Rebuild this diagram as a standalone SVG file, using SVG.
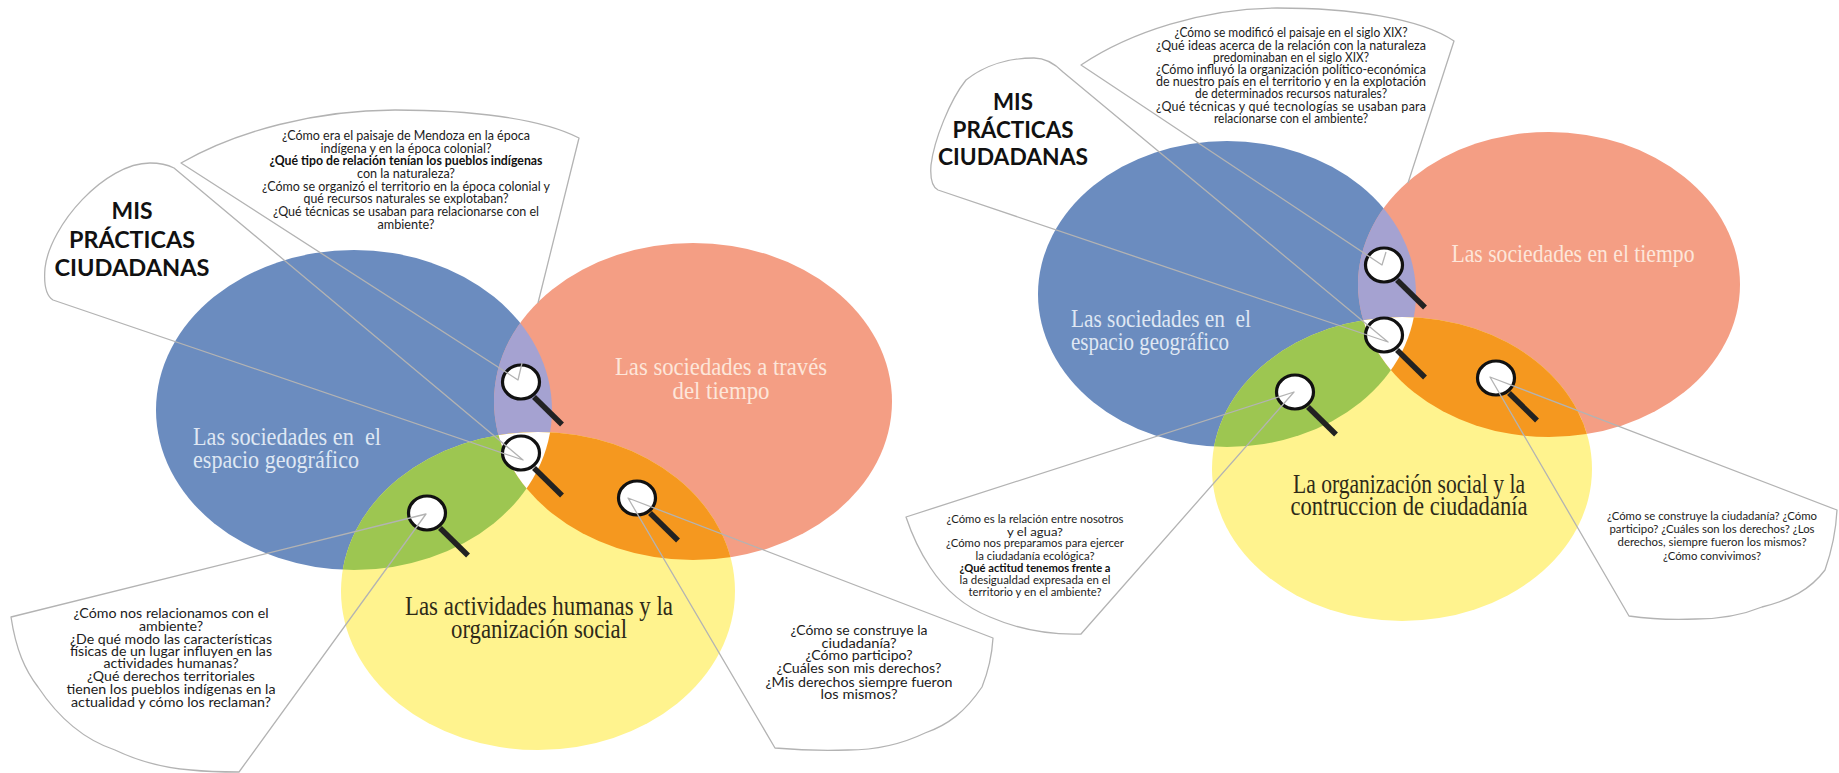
<svg xmlns="http://www.w3.org/2000/svg" xmlns:xlink="http://www.w3.org/1999/xlink" width="1839" height="773" viewBox="0 0 1839 773">
<style>
.q{font-family:"Lato","Liberation Sans",sans-serif;font-size:12.5px;fill:#1c1c1c;text-anchor:middle}
.qb{font-weight:700;fill:#111}
.q2{font-size:11.5px}
.t{font-family:"Lato","Liberation Sans",sans-serif;font-size:23.5px;font-weight:700;fill:#111;text-anchor:middle}
.l{font-family:"Liberation Serif",serif;font-size:26px}
.lt{fill:#dfe7f3}
.ls{fill:#fde6da;text-anchor:middle}
.ly{fill:#2e2a18;text-anchor:middle;font-size:28px}
.c{fill:none;stroke:#b3b3b3;stroke-width:1.3;stroke-linejoin:round}
.blue{fill:#6b8cbf}.sal{fill:#f49e84}.yel{fill:#fff38e}.lav{fill:#a5a2d1}.gre{fill:#9dc651}.ora{fill:#f5981f}
</style>
<defs>
<clipPath id="cb1"><ellipse cx="354" cy="410" rx="198" ry="160"/></clipPath>
<clipPath id="cs1"><ellipse cx="693" cy="401.500" rx="199" ry="158.500"/></clipPath>
<clipPath id="cb2"><ellipse cx="1227" cy="294" rx="189" ry="153"/></clipPath>
<clipPath id="cs2"><ellipse cx="1549" cy="284.500" rx="191" ry="152.500"/></clipPath>
<g id="lens">
<line x1="13" y1="15" x2="41" y2="42.500" stroke="#222" stroke-width="5.500"/>
<ellipse cx="0" cy="0" rx="18.500" ry="17" fill="#fff" stroke="#111" stroke-width="3.200"/>
</g>
</defs>

<g id="venn-left">
<ellipse class="blue" cx="354" cy="410" rx="198" ry="160"/>
<ellipse class="sal" cx="693" cy="401.500" rx="199" ry="158.500"/>
<ellipse class="yel" cx="538" cy="591" rx="197" ry="159"/>
<g clip-path="url(#cb1)"><ellipse class="lav" cx="693" cy="401.500" rx="199" ry="158.500"/></g>
<g clip-path="url(#cb1)"><ellipse class="gre" cx="538" cy="591" rx="197" ry="159"/></g>
<g clip-path="url(#cs1)"><ellipse class="ora" cx="538" cy="591" rx="197" ry="159"/></g>
<g clip-path="url(#cb1)"><g clip-path="url(#cs1)"><ellipse fill="#fff" cx="538" cy="591" rx="197" ry="159"/></g></g>
</g>

<g id="venn-right">
<ellipse class="blue" cx="1227" cy="294" rx="189" ry="153"/>
<ellipse class="sal" cx="1549" cy="284.500" rx="191" ry="152.500"/>
<ellipse class="yel" cx="1402" cy="469" rx="190" ry="152"/>
<g clip-path="url(#cb2)"><ellipse class="lav" cx="1549" cy="284.500" rx="191" ry="152.500"/></g>
<g clip-path="url(#cb2)"><ellipse class="gre" cx="1402" cy="469" rx="190" ry="152"/></g>
<g clip-path="url(#cs2)"><ellipse class="ora" cx="1402" cy="469" rx="190" ry="152"/></g>
<g clip-path="url(#cb2)"><g clip-path="url(#cs2)"><ellipse fill="#fff" cx="1402" cy="469" rx="190" ry="152"/></g></g>
</g>

<g id="magnifiers">
<use xlink:href="#lens" href="#lens" x="521" y="382"/>
<use xlink:href="#lens" href="#lens" x="521" y="453"/>
<use xlink:href="#lens" href="#lens" x="637" y="498"/>
<use xlink:href="#lens" href="#lens" x="427" y="513"/>
<use xlink:href="#lens" href="#lens" x="1384" y="265"/>
<use xlink:href="#lens" href="#lens" x="1384" y="335"/>
<use xlink:href="#lens" href="#lens" x="1496" y="378"/>
<use xlink:href="#lens" href="#lens" x="1295" y="392"/>
</g>

<g id="connectors">
<path class="c" d="M538,303 L579,138 C540,118 470,110 395,110 C316,110 237,131 181,163 L518,380 L522,363"/>
<path class="c" d="M523,460 L53,300 C45,295 44,280 45,268 C50,225 105,163 150,163 C160,163 168,165 174,168 Z"/>
<path class="c" d="M426,514 L11,617 C16,650 25,670 38,687 C60,720 85,740 115,750 C140,762 165,768 191,770 C210,772 225,772 239,772 Z"/>
<path class="c" d="M628,498 L993,638 C992,655 988,672 982,687 C965,712 948,725 925,733 C900,745 875,750 848,750 C822,751 798,750 775,748 Z"/>
<path class="c" d="M1408,183 L1454,41 C1420,18 1350,8 1277,8 C1205,8 1130,32 1081,65 L1382,265 L1386,252"/>
<path class="c" d="M1388,342 L938,190 C932,187 930,178 931,165 C934,140 950,100 966,80 C985,65 1010,58 1034,58 C1045,58 1055,64 1063,72 Z"/>
<path class="c" d="M1294,392 L906,517 C912,535 920,552 930,567 C945,590 965,607 990,617 C1020,630 1050,635 1081,634 Z"/>
<path class="c" d="M1490,377 L1837,510 C1836,530 1832,550 1825,570 C1810,590 1790,600 1762,607 C1740,616 1718,619 1696,619 C1672,620 1650,619 1629,616 Z"/>
</g>

<g id="titulo-izquierda">
<text class="t" x="132" y="219" textLength="41" lengthAdjust="spacingAndGlyphs">MIS</text>
<text class="t" x="132" y="248" textLength="126" lengthAdjust="spacingAndGlyphs">PRÁCTICAS</text>
<text class="t" x="132" y="276" textLength="155" lengthAdjust="spacingAndGlyphs">CIUDADANAS</text>
</g>
<g id="titulo-derecha">
<text class="t" x="1013" y="110" textLength="40" lengthAdjust="spacingAndGlyphs">MIS</text>
<text class="t" x="1013" y="138" textLength="121" lengthAdjust="spacingAndGlyphs">PRÁCTICAS</text>
<text class="t" x="1013" y="165" textLength="150" lengthAdjust="spacingAndGlyphs">CIUDADANAS</text>
</g>

<g id="preguntas-arriba-izquierda">
<text class="q" x="406" y="140" textLength="248" lengthAdjust="spacingAndGlyphs">¿Cómo era el paisaje de Mendoza en la época</text>
<text class="q" x="406" y="153" textLength="171" lengthAdjust="spacingAndGlyphs">indígena y en la época colonial?</text>
<text class="q qb" x="406" y="165" textLength="273" lengthAdjust="spacingAndGlyphs">¿Qué tipo de relación tenían los pueblos indígenas</text>
<text class="q" x="406" y="178" textLength="98" lengthAdjust="spacingAndGlyphs">con la naturaleza?</text>
<text class="q" x="406" y="191" textLength="288" lengthAdjust="spacingAndGlyphs">¿Cómo se organizó el territorio en la época colonial y</text>
<text class="q" x="406" y="203" textLength="205" lengthAdjust="spacingAndGlyphs">qué recursos naturales se explotaban?</text>
<text class="q" x="406" y="216" textLength="266" lengthAdjust="spacingAndGlyphs">¿Qué técnicas se usaban para relacionarse con el</text>
<text class="q" x="406" y="229" textLength="57" lengthAdjust="spacingAndGlyphs">ambiente?</text>
</g>

<g id="preguntas-abajo-izquierda-1">
<text class="q" x="171" y="618" textLength="195" lengthAdjust="spacingAndGlyphs">¿Cómo nos relacionamos con el</text>
<text class="q" x="171" y="631" textLength="64" lengthAdjust="spacingAndGlyphs">ambiente?</text>
<text class="q" x="171" y="644" textLength="202" lengthAdjust="spacingAndGlyphs">¿De qué modo las características</text>
<text class="q" x="171" y="656" textLength="202" lengthAdjust="spacingAndGlyphs">físicas de un lugar influyen en las</text>
<text class="q" x="171" y="668" textLength="135" lengthAdjust="spacingAndGlyphs">actividades humanas?</text>
<text class="q" x="171" y="681" textLength="168" lengthAdjust="spacingAndGlyphs">¿Qué derechos territoriales</text>
<text class="q" x="171" y="694" textLength="209" lengthAdjust="spacingAndGlyphs">tienen los pueblos indígenas en la</text>
<text class="q" x="171" y="707" textLength="200" lengthAdjust="spacingAndGlyphs">actualidad y cómo los reclaman?</text>
</g>

<g id="preguntas-abajo-derecha-1">
<text class="q" x="859" y="635" textLength="137" lengthAdjust="spacingAndGlyphs">¿Cómo se construye la</text>
<text class="q" x="859" y="648" textLength="75" lengthAdjust="spacingAndGlyphs">ciudadanía?</text>
<text class="q" x="859" y="660" textLength="107" lengthAdjust="spacingAndGlyphs">¿Cómo participo?</text>
<text class="q" x="859" y="673" textLength="165" lengthAdjust="spacingAndGlyphs">¿Cuáles son mis derechos?</text>
<text class="q" x="859" y="687" textLength="187" lengthAdjust="spacingAndGlyphs">¿Mis derechos siempre fueron</text>
<text class="q" x="859" y="699" textLength="77" lengthAdjust="spacingAndGlyphs">los mismos?</text>
</g>

<g id="preguntas-arriba-derecha">
<text class="q" x="1291" y="37" textLength="233" lengthAdjust="spacingAndGlyphs">¿Cómo se modificó el paisaje en el siglo XIX?</text>
<text class="q" x="1291" y="50" textLength="270" lengthAdjust="spacing">¿Qué ideas acerca de la relación con la naturaleza</text>
<text class="q" x="1291" y="62" textLength="156" lengthAdjust="spacingAndGlyphs">predominaban en el siglo XIX?</text>
<text class="q" x="1291" y="74" textLength="270" lengthAdjust="spacing">¿Cómo influyó la organización político-económica</text>
<text class="q" x="1291" y="86" textLength="270" lengthAdjust="spacingAndGlyphs">de nuestro país en el territorio y en la explotación</text>
<text class="q" x="1291" y="98" textLength="192" lengthAdjust="spacingAndGlyphs">de determinados recursos naturales?</text>
<text class="q" x="1291" y="111" textLength="270" lengthAdjust="spacing">¿Qué técnicas y qué tecnologías se usaban para</text>
<text class="q" x="1291" y="123" textLength="154" lengthAdjust="spacingAndGlyphs">relacionarse con el ambiente?</text>
</g>

<g id="preguntas-abajo-izquierda-2">
<text class="q q2" x="1035" y="523" textLength="177" lengthAdjust="spacingAndGlyphs">¿Cómo es la relación entre nosotros</text>
<text class="q q2" x="1035" y="536" textLength="56" lengthAdjust="spacingAndGlyphs">y el agua?</text>
<text class="q q2" x="1035" y="547" textLength="178" lengthAdjust="spacingAndGlyphs">¿Cómo nos preparamos para ejercer</text>
<text class="q q2" x="1035" y="560" textLength="119" lengthAdjust="spacingAndGlyphs">la ciudadanía ecológica?</text>
<text class="q q2 qb" x="1035" y="572" textLength="151" lengthAdjust="spacingAndGlyphs">¿Qué actitud tenemos frente a</text>
<text class="q q2" x="1035" y="584" textLength="151" lengthAdjust="spacingAndGlyphs">la desigualdad expresada en el</text>
<text class="q q2" x="1035" y="596" textLength="133" lengthAdjust="spacingAndGlyphs">territorio y en el ambiente?</text>
</g>

<g id="preguntas-abajo-derecha-2">
<text class="q q2" x="1712" y="520" textLength="210" lengthAdjust="spacingAndGlyphs">¿Cómo se construye la ciudadanía? ¿Cómo</text>
<text class="q q2" x="1712" y="533" textLength="205" lengthAdjust="spacingAndGlyphs">participo? ¿Cuáles son los derechos? ¿Los</text>
<text class="q q2" x="1712" y="546" textLength="189" lengthAdjust="spacingAndGlyphs">derechos, siempre fueron los mismos?</text>
<text class="q q2" x="1712" y="560" textLength="98" lengthAdjust="spacingAndGlyphs">¿Cómo convivimos?</text>
</g>

<g id="etiquetas-izquierda">
<text class="l lt" x="193" y="445" textLength="188" lengthAdjust="spacingAndGlyphs" xml:space="preserve">Las sociedades en  el</text>
<text class="l lt" x="193" y="468" textLength="166" lengthAdjust="spacingAndGlyphs">espacio geográfico</text>
<text class="l ls" x="721" y="375" textLength="212" lengthAdjust="spacingAndGlyphs">Las sociedades a través</text>
<text class="l ls" x="721" y="399" textLength="97" lengthAdjust="spacingAndGlyphs">del tiempo</text>
<text class="l ly" x="539" y="615" textLength="268" lengthAdjust="spacingAndGlyphs">Las actividades humanas y la</text>
<text class="l ly" x="539" y="638" textLength="176" lengthAdjust="spacingAndGlyphs">organización social</text>
</g>

<g id="etiquetas-derecha">
<text class="l lt" x="1071" y="327" textLength="180" lengthAdjust="spacingAndGlyphs" xml:space="preserve">Las sociedades en  el</text>
<text class="l lt" x="1071" y="350" textLength="158" lengthAdjust="spacingAndGlyphs">espacio geográfico</text>
<text class="l ls" x="1573" y="262" textLength="243" lengthAdjust="spacingAndGlyphs">Las sociedades en el tiempo</text>
<text class="l ly" x="1409" y="493" textLength="232" lengthAdjust="spacingAndGlyphs">La organización social y la</text>
<text class="l ly" x="1409" y="515" textLength="237" lengthAdjust="spacingAndGlyphs">contruccion de ciudadanía</text>
</g>
</svg>
